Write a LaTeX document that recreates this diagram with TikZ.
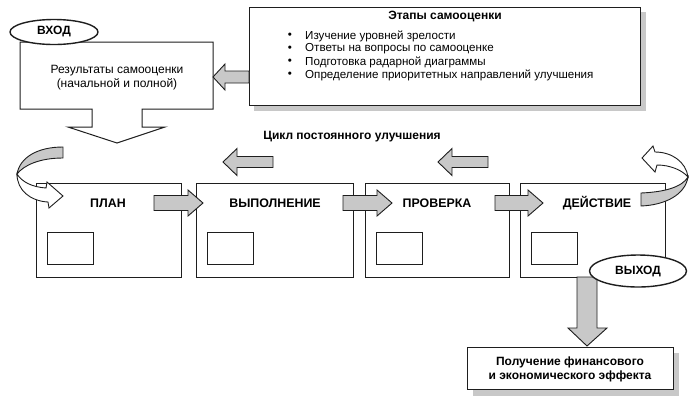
\documentclass[tikz,border=0pt]{standalone}
\usepackage{fontspec}
\setmainfont{Liberation Sans}
\usetikzlibrary{shapes.geometric}
\definecolor{argrey}{RGB}{200,200,200}
\definecolor{shgrey}{RGB}{200,200,200}
\definecolor{ink}{RGB}{30,30,30}
\newcommand\harrow[6]{%
  \draw[blk] (#1,#3) -- (#1+#4,#3-#5) -- (#1+#4,#3-#6) -- (#2,#3-#6) -- (#2,#3+#6) -- (#1+#4,#3+#6) -- (#1+#4,#3+#5) -- cycle;}
\begin{document}
\begin{tikzpicture}[x=1pt,y=-1pt,
  box/.style={draw=ink, fill=white, line width=1pt, inner sep=0pt, outer sep=0pt},
  blk/.style={draw=ink, fill=argrey, line width=0.9pt, line join=miter},
  wht/.style={draw=ink, fill=white, line width=0.9pt, line join=miter},
  lbl/.style={font=\bfseries\fontsize{12}{14}\selectfont, inner sep=0pt},
  blbl/.style={font=\bfseries\fontsize{12.4}{14}\selectfont, inner sep=0pt},
  txt/.style={font=\fontsize{12}{13}\selectfont, inner sep=0pt},
  btxt/.style={font=\fontsize{11.6}{13}\selectfont, inner sep=0pt},
  oval/.style={draw=ink, ellipse, fill=white, line width=1.4pt, inner sep=0pt}]
\useasboundingbox (0,0) rectangle (700,408);
\fill[white] (0,0) rectangle (700,408);

% ---- stages box (top right)
\fill[shgrey] (254,12) rectangle (646,111);
\node[box, anchor=north west, minimum width=391pt, minimum height=98pt] (stages) at (249,7) {};
\node[lbl] (stT) at (445,17) {Этапы самооценки};
\foreach \y/\t [count=\i] in {36/Изучение уровней зрелости, 49/Ответы на вопросы по самооценке, 62/Подготовка радарной диаграммы, 75/Определение приоритетных направлений улучшения}{
  \node[btxt] (b\i) at (290,\y) {•};
  \node[btxt, anchor=west] (s\i) at (305,\y) {\t};
}

% ---- results shape with down arrow
\draw[box, line join=miter] (20,42) -- (213,42) -- (213,109) -- (142,109) -- (142,127) -- (165,127) -- (117,143) -- (68,127) -- (92,127) -- (92,109) -- (20,109) -- cycle;
\node[txt] (res1) at (117,71) {Результаты самооценки};
\node[txt] (res2) at (117,84) {(начальной и полной)};
\node[oval, minimum width=88pt, minimum height=25pt] (vhod) at (54,32) {\bfseries\fontsize{12}{14}\selectfont ВХОД};

% arrow from stages to results
\harrow{213}{249}{77}{12}{13}{6}

% ---- cycle caption and back arrows
\node[lbl] (cap) at (352,137) {Цикл постоянного улучшения};
\harrow{223}{273}{162}{14}{13.5}{5.5}
\harrow{438}{488}{162}{14}{13.5}{5.5}

% ---- PDCA boxes
\foreach \n/\x/\w/\t/\lx in {plan/36/145/ПЛАН/108, do/196/157/ВЫПОЛНЕНИЕ/275, check/365/144/ПРОВЕРКА/437, act/520/145/ДЕЙСТВИЕ/597}{
  \node[box, anchor=north west, minimum width=\w pt, minimum height=94pt] (\n) at (\x,183) {};
  \node[box, anchor=north west, minimum width=46pt, minimum height=32pt] (\n I) at (\x+11,232) {};
  \node[blbl] (\n L) at (\lx,203) {\t};
}

% forward arrows
\harrow{203}{154}{203}{-15}{13}{7.5}
\harrow{392}{343}{203}{-15}{13}{7.5}
\harrow{543}{495}{203}{-15}{13}{7.5}

% ---- left curved arrow
\draw[blk] (63,147) .. controls (38,147) and (20,157) .. (17,174) .. controls (24,165) and (40,158) .. (63,158) -- cycle;
\draw[wht] (17,174) .. controls (22,182) and (32,187) .. (46,188) -- (47,182) -- (63,196) -- (49,208) -- (48,202) .. controls (30,201) and (17,190) .. (17,174) -- cycle;

% ---- right curved arrow
\draw[blk] (641,193) .. controls (665,192) and (682,187) .. (688,177) .. controls (685,195) and (665,205) .. (641,206) -- cycle;
\draw[wht] (688,177) .. controls (686,162) and (672,152) .. (655,152) -- (653,146) -- (642,158) -- (655,172) -- (657,165) .. controls (670,165) and (682,170) .. (688,177) -- cycle;

% ---- output
\draw[blk] (577,277) -- (597,277) -- (597,328) -- (607,328) -- (587,346) -- (568,328) -- (577,328) -- cycle;
\node[oval, minimum width=97pt, minimum height=32pt] (vyhod) at (638,271) {\bfseries\fontsize{12}{14}\selectfont ВЫХОД};

\fill[shgrey] (473,353) rectangle (679,396);
\node[box, anchor=north west, minimum width=206pt, minimum height=42pt] (eff) at (467,347) {};
\node[lbl] (eff1) at (570,362) {Получение финансового};
\node[lbl] (eff2) at (570,376) {и экономического эффекта};
\end{tikzpicture}
\end{document}
